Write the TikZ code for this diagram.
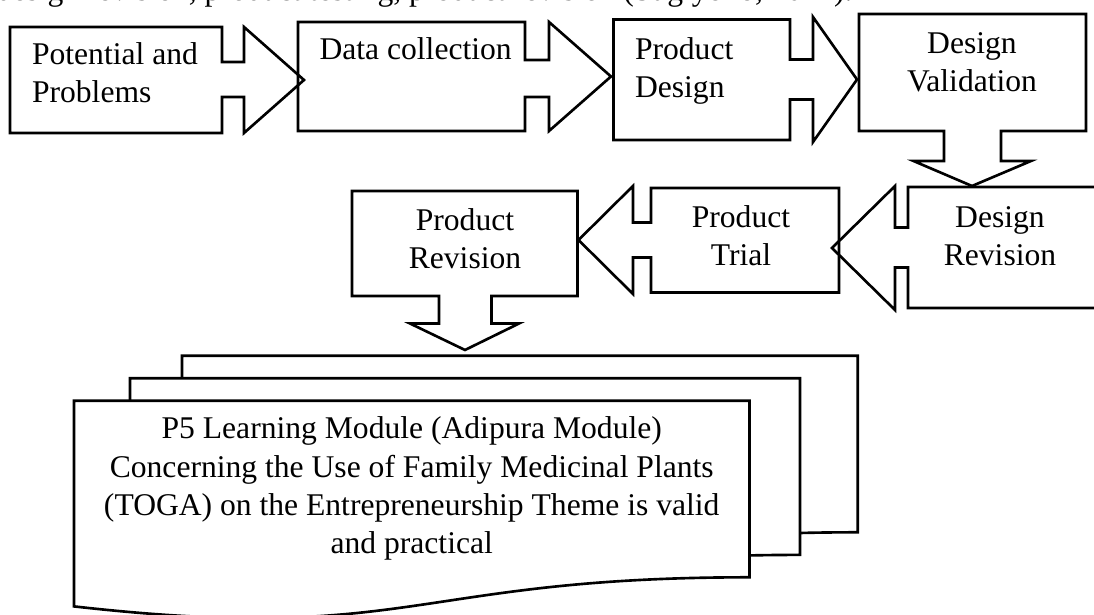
\documentclass[tikz,border=0pt]{standalone}
\usepackage{fontspec}
\setmainfont{Liberation Serif}
\begin{document}
\begin{tikzpicture}[x=0.3797pt,y=-0.3797pt,font=\fontsize{12pt}{14.5pt}\selectfont,
        callout/.style={draw,line width=1pt},
        doc/.style={draw,fill=white,line width=1pt},
        lefttext/.style={inner sep=0pt,anchor=base west,align=left},
        midtext/.style={inner sep=0pt,anchor=base,align=center}]
    \useasboundingbox[fill=white] (0,0) rectangle (1094,615);
    \clip (0,0) rectangle (1094,615);
    % last line of the text above, cut by the page
    \node[inner sep=0pt,anchor=base east] (above) at (853,0.5) {design revision, product testing, product revision (Sugiyono, 2017).};
    % first row
    \draw[callout] (10,27) -- (222,27) -- (222,62) -- (244,62) -- (244,27) -- (304,80) -- (244,133) -- (244,97) -- (222,97) -- (222,133) -- (10,133) -- cycle;
    \draw[callout] (298,22) -- (525,22) -- (525,60) -- (549,60) -- (549,22) -- (611,76.5) -- (549,131) -- (549,97) -- (525,97) -- (525,131) -- (298,131) -- cycle;
    \draw[callout] (613.5,19.5) -- (790,19.5) -- (790,59.5) -- (813,59.5) -- (813,17) -- (857,79.5) -- (813,142) -- (813,99.5) -- (790,99.5) -- (790,140) -- (613.5,140) -- cycle;
    \draw[callout] (859,14) -- (1086,14) -- (1086,131) -- (1001,131) -- (1001,161) -- (1031,161) -- (972,186) -- (913.5,161) -- (944,161) -- (944,131) -- (859,131) -- cycle;
    % (base of a text of several lines = its last line)
    \node[lefttext] (potential) at (31.5,103) {Potential and\\Problems};
    \node[lefttext] (data) at (319,60) {Data collection};
    \node[lefttext] (pdesign) at (634.5,97.8) {Product\\Design};
    \node[midtext] (dvalid) at (972,92) {Design\\Validation};
    % second row, arrows to the left
    \draw[callout] (1096,187) -- (908,187) -- (908,227.5) -- (895,227.5) -- (895,186) -- (832,248) -- (895,310) -- (895,267.5) -- (908,267.5) -- (908,308) -- (1096,308) -- cycle;
    \draw[callout] (839,188) -- (651,188) -- (651,222.5) -- (633,222.5) -- (633,186) -- (578.5,240) -- (633,294) -- (633,257.5) -- (651,257.5) -- (651,292.5) -- (839,292.5) -- cycle;
    \draw[callout] (352,191) -- (577.5,191) -- (577.5,296) -- (491.5,296) -- (491.5,323.5) -- (519,323.5) -- (465,350) -- (410,323.5) -- (439,323.5) -- (439,296) -- (352,296) -- cycle;
    \node[midtext] (drevision) at (1000,265.5) {Design\\Revision};
    \node[midtext] (ptrial) at (741,266) {Product\\Trial};
    \node[midtext] (prevision) at (465,268.5) {Product\\Revision};
    % pile of documents
    \draw[doc] (182,355.7) -- (857.7,355.7) -- (857.7,532.3) .. controls (519.8,532.3) and (519.8,599.6) .. (182,561.4) -- cycle;
    \draw[doc] (130,378.3) -- (800,378.3) -- (800,554.9) .. controls (465,554.9) and (465,622.2) .. (130,584) -- cycle;
    \draw[doc] (74,400.7) -- (749.5,400.7) -- (749.5,577.3) .. controls (411.75,577.3) and (411.75,644.6) .. (74,606.4) -- cycle;
    \node[midtext] (module) at (411.75,553.5) {P5 Learning Module (Adipura Module)\\Concerning the Use of Family Medicinal Plants\\(TOGA) on the Entrepreneurship Theme is valid\\and practical};
\end{tikzpicture}
\end{document}
